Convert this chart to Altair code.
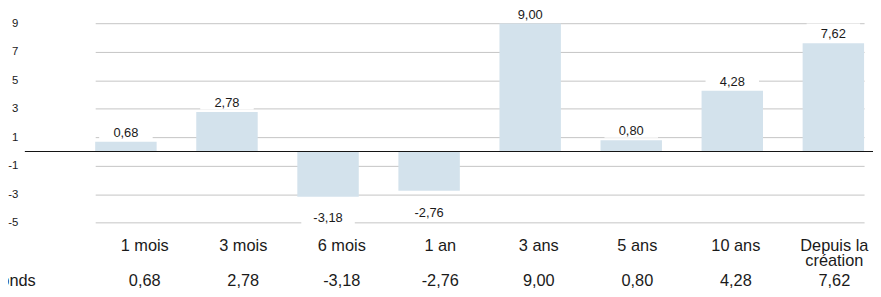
import altair as alt
import pandas as pd

categories = ["1 mois", "3 mois", "6 mois", "1 an", "3 ans", "5 ans", "10 ans", "Depuis la création"]
fonds = [0.68, 2.78, -3.18, -2.76, 9.00, 0.80, 4.28, 7.62]
y_ticks = [-5, -3, -1, 1, 3, 5, 7, 9]
row_label = "Fonds"

labels = [f"{v:.2f}".replace(".", ",") for v in fonds]
display = [c.replace("Depuis la ", "Depuis la\n") for c in categories]
df = pd.DataFrame({"cat": categories, "value": fonds, "label": labels, "display": display})

FONT = "Liberation Sans"
W, H = 856, 229.6

x_bar = alt.X("cat:N", sort=categories,
              scale=alt.Scale(range=[71, 847], paddingInner=0.392, paddingOuter=0),
              axis=None)
y_scale = alt.Scale(domain=[-6, 10], nice=False, zero=False)
y_axis = alt.Axis(values=y_ticks, tickCount=20, grid=True, gridColor="#c4c4c4", gridWidth=1,
                  domain=False, ticks=False, labelPadding=7, labelFontSize=11.5,
                  labelFont=FONT, labelColor="#1a1a1a", title=None, labelOverlap=False,
                  labelExpr="'' + datum.value")
y_enc = alt.Y("value:Q", scale=y_scale, axis=y_axis)

base = alt.Chart(df)

bars = base.mark_bar(color="#d3e2ec").encode(x=x_bar, y=y_enc)

box_shape = "M-1,-0.40L1,-0.40L1,0.24L-1,0.24Z"
box_pos = base.transform_filter("datum.value >= 0").mark_point(
    shape=box_shape, size=2916, filled=True, color="white", opacity=1, strokeWidth=0, yOffset=-9
).encode(x=x_bar, y=y_enc)
box_neg = base.transform_filter("datum.value < 0").mark_point(
    shape=box_shape, size=2916, filled=True, color="white", opacity=1, strokeWidth=0, yOffset=22
).encode(x=x_bar, y=y_enc)

zero = alt.Chart(pd.DataFrame({"value": [0]})).mark_rule(color="#111111", strokeWidth=1).encode(
    y=y_enc)

txt_pos = base.transform_filter("datum.value >= 0").mark_text(
    dy=-9, fontSize=13, font=FONT, color="#1a1a1a", baseline="middle"
).encode(x=x_bar, y=y_enc, text="label:N")
txt_neg = base.transform_filter("datum.value < 0").mark_text(
    dy=22, fontSize=13, font=FONT, color="#1a1a1a", baseline="middle"
).encode(x=x_bar, y=y_enc, text="label:N")

x_tab = alt.X("cat:N", sort=categories,
              scale=alt.Scale(type="point", range=[121, 817], padding=0), axis=None)

cat_text = base.mark_text(
    fontSize=16.5, font=FONT, color="#1a1a1a", baseline="alphabetic", lineBreak="\n", lineHeight=16
).encode(x=x_tab, y=alt.value(243.5), text="display:N")
val_text = base.mark_text(
    fontSize=16.5, font=FONT, color="#1a1a1a", baseline="alphabetic"
).encode(x=x_tab, y=alt.value(279.5), text="label:N")
row_text = alt.Chart(pd.DataFrame({"t": [row_label]})).mark_text(
    fontSize=16.5, font=FONT, color="#1a1a1a", baseline="alphabetic", align="right"
).encode(x=alt.value(11), y=alt.value(279.5), text="t:N")

top = alt.layer(bars, box_pos, box_neg, zero, txt_pos, txt_neg)
table = alt.layer(cat_text, val_text, row_text)

chart = alt.layer(top, table).resolve_scale(x="independent").properties(
    width=W, height=H,
    autosize=alt.AutoSizeParams(type="none"),
    padding={"left": 17, "right": 0, "top": 0, "bottom": 289 - H},
    background="white",
).configure_view(stroke=None)

chart.save("out.html", embed_options={"renderer": "svg", "actions": False})
